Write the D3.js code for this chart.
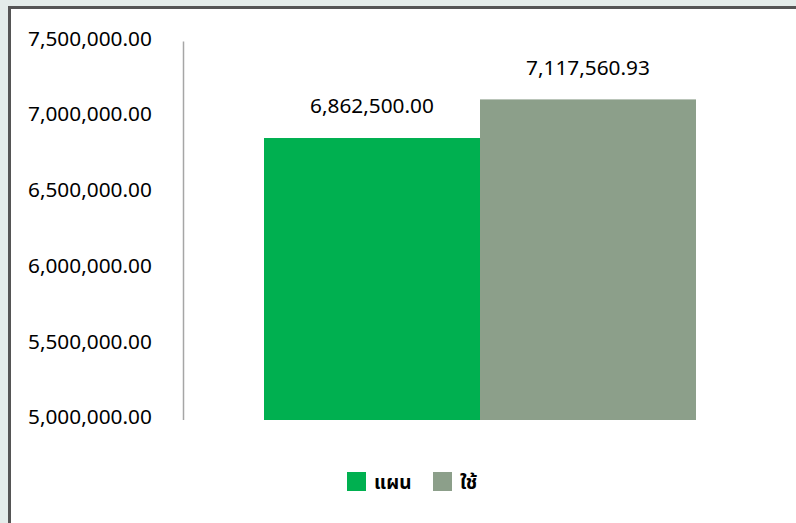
<!DOCTYPE html>
<html lang="th">
<head>
<meta charset="utf-8"/>
<script src="https://d3js.org/d3.v7.min.js"></script>
<style>
  html, body { margin: 0; padding: 0; background: #e4ecea; }
  #chart { position: absolute; left: 0; top: 0; }
</style>
</head>
<body>
<div id="chart"></div>
<script>
  const width = 796;
  const height = 523;

  // data
  const categories = [""];
  const seriesNames = ["แผน", "ใช้"];
  const seriesValues = [6862500.00, 7117560.93];
  const seriesColors = ["#00b050", "#8c9f8a"];
  const yTicks = [5000000, 5500000, 6000000, 6500000, 7000000, 7500000];

  const svg = d3.select("#chart").append("svg")
    .attr("width", width)
    .attr("height", height);

  // frame: dark border on top and left, white panel
  svg.append("rect")
    .attr("x", 8).attr("y", 6)
    .attr("width", width - 8).attr("height", height - 6)
    .attr("fill", "#555");
  svg.append("rect")
    .attr("x", 11).attr("y", 9)
    .attr("width", width - 11).attr("height", height - 9)
    .attr("fill", "#fff");

  const fmt = d3.format(",.2f");
  const labelFont = "Noto Sans, DejaVu Sans, sans-serif";

  const yScale = d3.scaleLinear()
    .domain([5000000, 7500000])
    .range([420, 41.5]);

  const x0 = d3.scaleBand()
    .domain(categories)
    .range([183, 777])
    .paddingInner(0)
    .paddingOuter(0.1875);

  const x1 = d3.scaleBand()
    .domain(seriesNames)
    .range([0, x0.bandwidth()]);

  // y axis: line only, labels left aligned
  svg.append("line")
    .attr("x1", 183.5).attr("x2", 183.5)
    .attr("y1", 41.5).attr("y2", 420)
    .attr("stroke", "#a6a6a6")
    .attr("stroke-width", 1.5);

  svg.append("g")
    .selectAll("text")
    .data(yTicks)
    .enter()
    .append("text")
      .attr("x", 28)
      .attr("y", (d) => yScale(d) - 3)
      .attr("dy", "0.35em")
      .attr("font-family", labelFont)
      .attr("font-size", 20.8)
      .attr("fill", "#000")
      .text((d) => fmt(d));

  // bars
  const bars = svg.append("g")
    .attr("transform", "translate(" + x0(categories[0]) + ",0)");

  bars.selectAll("rect")
    .data(seriesValues)
    .enter()
    .append("rect")
      .attr("x", (d, i) => x1(seriesNames[i]))
      .attr("y", (d) => yScale(d))
      .attr("width", x1.bandwidth())
      .attr("height", (d) => yScale(5000000) - yScale(d))
      .attr("fill", (d, i) => seriesColors[i]);

  bars.selectAll("text")
    .data(seriesValues)
    .enter()
    .append("text")
      .attr("x", (d, i) => x1(seriesNames[i]) + x1.bandwidth() / 2)
      .attr("y", (d) => yScale(d) - 32)
      .attr("dy", "0.35em")
      .attr("text-anchor", "middle")
      .attr("font-family", labelFont)
      .attr("font-size", 20.8)
      .attr("fill", "#000")
      .text((d) => fmt(d));

  // legend
  const legendX = [347, 433];
  const legend = svg.append("g")
    .selectAll("g")
    .data(seriesNames)
    .enter()
    .append("g")
      .attr("transform", (d, i) => "translate(" + legendX[i] + ",472)");

  legend.append("rect")
    .attr("width", 19).attr("height", 19)
    .attr("fill", (d, i) => seriesColors[i]);

  legend.append("text")
    .attr("x", 27)
    .attr("y", 10)
    .attr("dy", "0.35em")
    .attr("font-family", "Noto Sans Thai, Noto Sans, DejaVu Sans, sans-serif")
    .attr("font-size", 19)
    .attr("font-weight", "bold")
    .attr("fill", "#000")
    .text((d) => d);
</script>
</body>
</html>
